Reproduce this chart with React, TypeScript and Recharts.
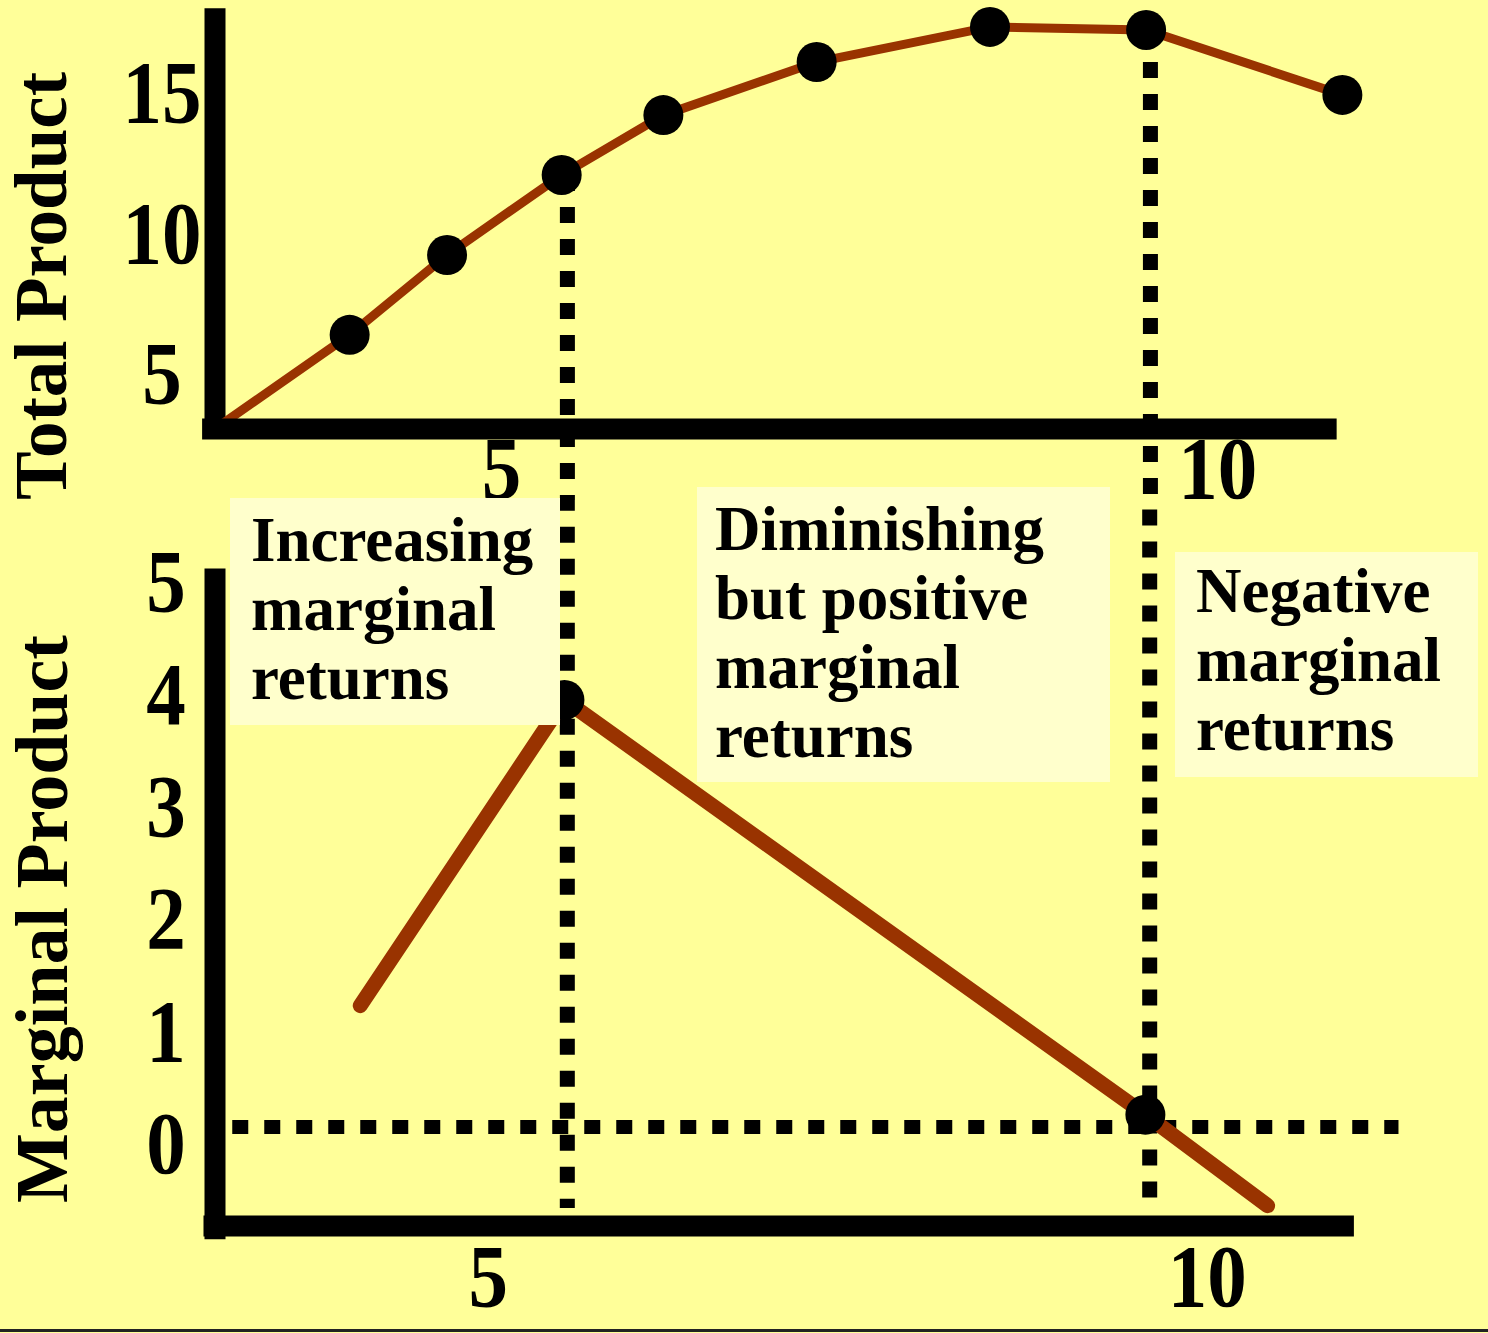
import React from 'react';
import { LineChart, Line, XAxis, YAxis, ReferenceLine } from 'recharts';

// ---------- Total Product panel (values read against this panel's own tick labels)
const tpLabor = [3.0, 3.94, 4.62, 5.42, 6.13, 7.2, 8.41, 9.5, 10.87];
const tpOutput = [3.0, 6.35, 9.19, 12.04, 14.17, 16.06, 17.31, 17.2, 14.89];
const tpHasMarker = [false, true, true, true, true, true, true, true, true];
const tpXTicks = [5, 10];
const tpYTicks = [5, 10, 15];
const tpXDomain = [3, 11];
const tpYDomain = [3, 18];
const tpAxisXExtent = [2.91, 10.83];
const tpAxisYExtent = [2.64, 17.97];
const tpGuideLabor = [5.46, 9.53];
const tpGuideFrom = [12.04, 17.2];
const tpGuideTo = 0.473;

// ---------- Marginal Product panel
const mpLabor = [4.11, 5.53, 9.57, 10.42];
const mpOutput = [1.22, 3.94, 0.25, -0.56];
const mpHasMarker = [false, true, true, false];
const mpXTicks = [5, 10];
const mpYTicks = [0, 1, 2, 3, 4, 5];
const mpXDomain = [3.1, 11.1];
const mpYDomain = [-0.75, 5.15];
const mpAxisXExtent = [3.02, 11.02];
const mpAxisYExtent = [-0.86, 5.11];
const mpAxisLevel = -0.74;
const mpZeroLevel = 0.14;
const mpZeroExtent = [3.22, 11.33];
const mpGuideLabor = [5.55, 9.6];
const mpGuideFrom = [6.05, 5.92];
const mpGuideTo = -0.58;

// ---------- Region annotations
const regionLabels = [
  ['Increasing', 'marginal', 'returns'],
  ['Diminishing', 'but positive', 'marginal', 'returns'],
  ['Negative', 'marginal', 'returns'],
];

const tpData = tpLabor.map((x, i) => ({ x, y: tpOutput[i], marked: tpHasMarker[i] }));
const mpData = mpLabor.map((x, i) => ({ x, y: mpOutput[i], marked: mpHasMarker[i] }));

const FONT = "'Liberation Serif', 'Times New Roman', Times, serif";
const BG = '#FFFF99';
const BOX = '#FFFFCC';
const BROWN = '#993300';

const makeYTick = (dx: number) => (props: any) => {
  const { x, y, payload } = props;
  return (
    <g transform={`translate(${x + dx},${y}) scale(1,1.13)`}>
      <text x={0} y={0} dy="0.34em" textAnchor="middle" fontFamily={FONT} fontWeight="bold" fontSize={79} fill="#000">
        {payload.value}
      </text>
    </g>
  );
};

const makeXTick = (dy: number) => (props: any) => {
  const { x, y, payload } = props;
  return (
    <g transform={`translate(${x},${y + dy}) scale(1,1.13)`}>
      <text x={0} y={0} dy="0.34em" textAnchor="middle" fontFamily={FONT} fontWeight="bold" fontSize={79} fill="#000">
        {payload.value}
      </text>
    </g>
  );
};

const renderDot = (r: number) => (props: any) => {
  const { cx, cy, payload, index } = props;
  if (!payload || !payload.marked) return <g key={`d${index}`} />;
  return <circle key={`d${index}`} cx={cx} cy={cy} r={r} fill="#000" />;
};

const AxisTitle = (props: any) => {
  const { title, posX, posY, size } = props;
  return (
    <text
      x={posX}
      y={posY}
      transform={`rotate(-90,${posX},${posY})`}
      textAnchor="middle"
      fontFamily={FONT}
      fontWeight="bold"
      fontSize={size}
      fill="#000"
    >
      {title}
    </text>
  );
};

const axisStroke = { stroke: '#000', strokeWidth: 21 };
const guideStroke = { stroke: '#000', strokeWidth: 15, strokeDasharray: '16 16' };

function TotalProductChart() {
  return (
    <LineChart
      width={1488}
      height={520}
      data={tpData}
      margin={{ top: 7.5, right: 127, bottom: 20, left: 0 }}
    >
      <XAxis
        type="number"
        dataKey="x"
        domain={tpXDomain}
        ticks={tpXTicks}
        interval={0}
        height={71}
        axisLine={false}
        tickLine={false}
        tickSize={0}
        tickMargin={0}
        tick={makeXTick(39)}
      />
      <YAxis
        type="number"
        domain={tpYDomain}
        ticks={tpYTicks}
        interval={0}
        width={215}
        axisLine={false}
        tickLine={false}
        tickSize={0}
        tickMargin={0}
        tick={makeYTick(-53)}
        label={<AxisTitle title="Total Product" posX={66} posY={286} size={73} />}
      />
      {tpGuideLabor.map((gx, i) => (
        <ReferenceLine
          key={`g${i}`}
          segment={[{ x: gx, y: tpGuideFrom[i] }, { x: gx, y: tpGuideTo }]}
          ifOverflow="visible"
          {...guideStroke}
        />
      ))}
      <ReferenceLine
        segment={[{ x: tpXDomain[0], y: tpAxisYExtent[0] }, { x: tpXDomain[0], y: tpAxisYExtent[1] }]}
        ifOverflow="visible"
        {...axisStroke}
      />
      <Line
        type="linear"
        dataKey="y"
        stroke={BROWN}
        strokeWidth={9}
        dot={renderDot(20)}
        activeDot={false}
        isAnimationActive={false}
      />
      <ReferenceLine
        segment={[{ x: tpAxisXExtent[0], y: tpYDomain[0] }, { x: tpAxisXExtent[1], y: tpYDomain[0] }]}
        ifOverflow="visible"
        {...axisStroke}
      />
    </LineChart>
  );
}

function MarginalProductChart() {
  return (
    <LineChart
      width={1488}
      height={829}
      data={mpData}
      margin={{ top: 64, right: 122.6, bottom: 2, left: 0 }}
    >
      <XAxis
        type="number"
        dataKey="x"
        domain={mpXDomain}
        ticks={mpXTicks}
        interval={0}
        height={100}
        axisLine={false}
        tickLine={false}
        tickSize={0}
        tickMargin={0}
        tick={makeXTick(49)}
      />
      <YAxis
        type="number"
        domain={mpYDomain}
        ticks={mpYTicks}
        interval={0}
        width={215}
        axisLine={false}
        tickLine={false}
        tickSize={0}
        tickMargin={0}
        tick={makeYTick(-49)}
        label={<AxisTitle title="Marginal Product" posX={67} posY={419} size={74} />}
      />
      {mpGuideLabor.map((gx, i) => (
        <ReferenceLine
          key={`g${i}`}
          segment={[{ x: gx, y: mpGuideFrom[i] }, { x: gx, y: mpGuideTo }]}
          ifOverflow="visible"
          {...guideStroke}
        />
      ))}
      <ReferenceLine
        segment={[{ x: mpZeroExtent[0], y: mpZeroLevel }, { x: mpZeroExtent[1], y: mpZeroLevel }]}
        ifOverflow="visible"
        stroke="#000"
        strokeWidth={14}
        strokeDasharray="16 16"
      />
      <ReferenceLine
        segment={[{ x: mpXDomain[0], y: mpAxisYExtent[0] }, { x: mpXDomain[0], y: mpAxisYExtent[1] }]}
        ifOverflow="visible"
        {...axisStroke}
      />
      <ReferenceLine
        segment={[{ x: mpAxisXExtent[0], y: mpAxisLevel }, { x: mpAxisXExtent[1], y: mpAxisLevel }]}
        ifOverflow="visible"
        {...axisStroke}
      />
      <Line
        type="linear"
        dataKey="y"
        stroke={BROWN}
        strokeWidth={15}
        strokeLinecap="round"
        strokeLinejoin="miter"
        dot={renderDot(20)}
        activeDot={false}
        isAnimationActive={false}
      />
    </LineChart>
  );
}

const boxes = [
  { left: 230, top: 498, width: 330, height: 227, padTop: 8, padLeft: 21 },
  { left: 697, top: 487, width: 413, height: 295, padTop: 8, padLeft: 18 },
  { left: 1175, top: 552, width: 303, height: 225, padTop: 5, padLeft: 21 },
];

export default function App() {
  return (
    <div
      style={{
        position: 'relative',
        width: 1488,
        height: 1333,
        background: BG,
        overflow: 'hidden',
        fontFamily: FONT,
      }}
    >
      <style>{`html,body{margin:0;padding:0;background:${BG};}`}</style>
      <div style={{ position: 'absolute', left: 0, top: 0 }}>
        <TotalProductChart />
      </div>
      <div style={{ position: 'absolute', left: 0, top: 500 }}>
        <MarginalProductChart />
      </div>
      {regionLabels.map((lines, i) => {
        const b = boxes[i];
        return (
          <div
            key={i}
            style={{
              position: 'absolute',
              left: b.left,
              top: b.top,
              width: b.width,
              height: b.height,
              background: BOX,
              boxSizing: 'border-box',
              paddingTop: b.padTop,
              paddingLeft: b.padLeft,
              fontFamily: FONT,
              fontWeight: 'bold',
              fontSize: 63,
              lineHeight: '69px',
              color: '#000',
              whiteSpace: 'nowrap',
            }}
          >
            {lines.map((t, j) => (
              <div key={j}>{t}</div>
            ))}
          </div>
        );
      })}
      <div style={{ position: 'absolute', left: 0, top: 1329, width: 1488, height: 3, background: '#222' }} />
    </div>
  );
}
